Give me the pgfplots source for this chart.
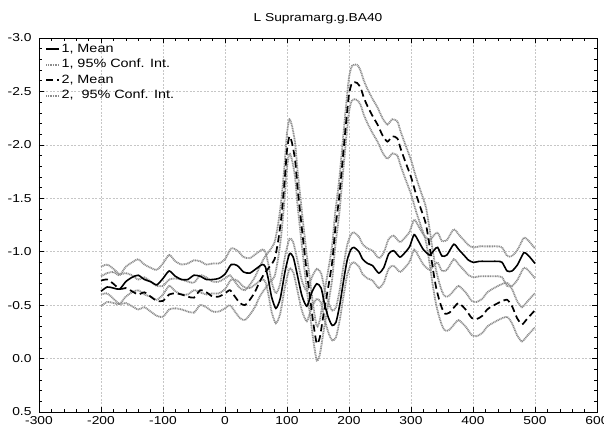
\documentclass[border=0pt]{standalone}
\usepackage{pgfplots}
\usepackage{pgfplotstable}
\pgfplotsset{compat=1.18}
\usepackage{fontspec}
\setmainfont{Liberation Sans}[FakeStretch=1.2]

\pgfplotstableread{
x m a b
-200 -0.63 -0.77 -0.49
-190 -0.67 -0.80 -0.53
-180 -0.66 -0.81 -0.52
-170 -0.65 -0.78 -0.51
-160 -0.72 -0.86 -0.58
-150 -0.76 -0.90 -0.62
-140 -0.78 -0.93 -0.64
-130 -0.74 -0.88 -0.60
-120 -0.72 -0.85 -0.58
-110 -0.69 -0.83 -0.55
-100 -0.75 -0.89 -0.60
-90 -0.82 -0.97 -0.68
-80 -0.77 -0.91 -0.63
-70 -0.74 -0.88 -0.60
-60 -0.74 -0.89 -0.60
-50 -0.78 -0.92 -0.64
-40 -0.77 -0.91 -0.62
-30 -0.74 -0.88 -0.60
-20 -0.74 -0.89 -0.61
-10 -0.75 -0.89 -0.61
0 -0.79 -0.93 -0.65
10 -0.88 -1.03 -0.74
20 -0.87 -1.01 -0.73
30 -0.81 -0.95 -0.67
40 -0.80 -0.94 -0.66
50 -0.84 -0.98 -0.70
60 -0.88 -1.02 -0.74
65 -0.86 -1.00 -0.72
70 -0.74 -0.88 -0.60
75 -0.58 -0.72 -0.44
82 -0.47 -0.61 -0.33
89 -0.56 -0.70 -0.42
97 -0.82 -0.96 -0.68
104 -0.98 -1.12 -0.84
110 -0.95 -1.09 -0.81
116 -0.80 -0.94 -0.66
124 -0.59 -0.73 -0.45
132 -0.49 -0.63 -0.35
140 -0.62 -0.76 -0.48
148 -0.70 -0.84 -0.56
155 -0.66 -0.80 -0.52
161 -0.50 -0.64 -0.36
167 -0.38 -0.52 -0.24
173 -0.31 -0.45 -0.17
179 -0.34 -0.48 -0.20
185 -0.50 -0.64 -0.36
191 -0.72 -0.86 -0.58
197 -0.92 -1.06 -0.78
203 -1.02 -1.16 -0.88
208 -1.04 -1.18 -0.90
216 -1.00 -1.14 -0.86
222 -0.93 -1.07 -0.79
230 -0.89 -1.03 -0.75
238 -0.87 -1.01 -0.73
248 -0.80 -0.94 -0.66
256 -0.85 -0.99 -0.71
264 -0.98 -1.12 -0.84
272 -1.01 -1.15 -0.87
282 -0.95 -1.09 -0.81
290 -0.99 -1.13 -0.85
298 -1.05 -1.19 -0.91
305 -1.16 -1.30 -1.02
312 -1.10 -1.24 -0.96
320 -1.02 -1.16 -0.88
330 -0.97 -1.11 -0.83
338 -1.02 -1.16 -0.88
343 -1.04 -1.18 -0.90
350 -0.96 -1.10 -0.82
358 -0.97 -1.11 -0.83
369 -1.07 -1.21 -0.93
377 -1.02 -1.16 -0.88
385 -0.97 -1.11 -0.83
393 -0.92 -1.06 -0.78
401 -0.90 -1.04 -0.76
410 -0.91 -1.05 -0.77
420 -0.91 -1.05 -0.77
430 -0.91 -1.05 -0.77
440 -0.91 -1.05 -0.77
447 -0.90 -1.04 -0.76
455 -0.82 -0.96 -0.68
463 -0.82 -0.96 -0.68
472 -0.88 -1.02 -0.74
482 -0.99 -1.13 -0.85
490 -0.96 -1.10 -0.82
500 -0.89 -1.03 -0.75
}\sone

\pgfplotstableread{
x m a b
-200 -0.73 -0.86 -0.60
-190 -0.74 -0.88 -0.61
-180 -0.70 -0.84 -0.56
-170 -0.65 -0.79 -0.51
-160 -0.66 -0.80 -0.52
-150 -0.63 -0.78 -0.49
-140 -0.60 -0.74 -0.46
-130 -0.62 -0.76 -0.48
-120 -0.58 -0.72 -0.44
-110 -0.54 -0.68 -0.40
-100 -0.54 -0.68 -0.39
-90 -0.60 -0.74 -0.46
-80 -0.61 -0.75 -0.47
-70 -0.60 -0.74 -0.46
-60 -0.58 -0.72 -0.44
-50 -0.57 -0.71 -0.43
-40 -0.64 -0.78 -0.50
-30 -0.62 -0.76 -0.48
-20 -0.58 -0.72 -0.44
-10 -0.58 -0.72 -0.44
0 -0.61 -0.75 -0.47
8 -0.64 -0.78 -0.50
16 -0.58 -0.72 -0.44
24 -0.52 -0.66 -0.38
32 -0.50 -0.64 -0.36
40 -0.55 -0.69 -0.41
48 -0.62 -0.76 -0.48
56 -0.72 -0.86 -0.58
64 -0.80 -0.95 -0.65
72 -0.86 -1.01 -0.71
80 -0.93 -1.09 -0.77
86 -1.11 -1.27 -0.95
91 -1.33 -1.49 -1.17
96 -1.65 -1.81 -1.49
100 -1.95 -2.11 -1.79
104 -2.08 -2.24 -1.92
108 -2.02 -2.18 -1.86
113 -1.86 -2.02 -1.70
117 -1.60 -1.76 -1.44
121 -1.38 -1.54 -1.22
126 -1.11 -1.27 -0.95
132 -0.80 -0.96 -0.64
137 -0.58 -0.74 -0.42
142 -0.35 -0.51 -0.19
148 -0.14 -0.30 0.02
153 -0.20 -0.36 -0.04
158 -0.38 -0.54 -0.22
163 -0.55 -0.71 -0.39
168 -0.72 -0.88 -0.56
173 -0.91 -1.07 -0.75
178 -1.22 -1.38 -1.06
184 -1.50 -1.66 -1.34
189 -1.81 -1.97 -1.65
195 -2.19 -2.35 -2.03
200 -2.47 -2.63 -2.31
205 -2.58 -2.74 -2.42
213 -2.58 -2.75 -2.42
219 -2.53 -2.69 -2.37
224 -2.44 -2.60 -2.28
230 -2.36 -2.52 -2.20
238 -2.27 -2.43 -2.11
246 -2.19 -2.35 -2.03
254 -2.09 -2.25 -1.93
262 -2.03 -2.19 -1.87
270 -2.08 -2.24 -1.92
278 -2.06 -2.22 -1.90
283 -1.97 -2.13 -1.81
291 -1.84 -2.00 -1.68
300 -1.70 -1.86 -1.54
308 -1.54 -1.70 -1.38
316 -1.40 -1.56 -1.24
324 -1.26 -1.42 -1.10
330 -1.05 -1.21 -0.89
335 -0.85 -1.01 -0.69
340 -0.68 -0.84 -0.52
345 -0.56 -0.72 -0.40
350 -0.47 -0.63 -0.31
355 -0.42 -0.58 -0.26
362 -0.43 -0.59 -0.27
371 -0.49 -0.65 -0.33
377 -0.52 -0.68 -0.36
388 -0.46 -0.62 -0.30
398 -0.38 -0.54 -0.22
406 -0.37 -0.53 -0.21
415 -0.40 -0.56 -0.24
423 -0.46 -0.62 -0.30
431 -0.49 -0.65 -0.33
444 -0.53 -0.69 -0.37
455 -0.55 -0.71 -0.39
463 -0.49 -0.65 -0.33
471 -0.38 -0.54 -0.22
479 -0.32 -0.48 -0.16
487 -0.37 -0.53 -0.21
498 -0.44 -0.60 -0.28
500 -0.45 -0.61 -0.29
}\stwo

\tikzset{
  meanone/.style={black, line width=1.6pt, solid},
  meantwo/.style={black, line width=1.7pt, dash pattern=on 7pt off 4pt},
  ci/.style={gray!90, line width=1.8pt, dash pattern=on 1pt off 0.7pt},
}

\begin{document}
\begin{tikzpicture}
\begin{axis}[
  width=558pt, height=374pt, scale only axis,
  xmin=-300, xmax=600, ymin=-3, ymax=0.5, y dir=reverse,
  xtick={-300,-200,-100,0,100,200,300,400,500,600},
  ytick={-3,-2.5,-2,-1.5,-1,-0.5,0,0.5},
  minor x tick num=4, minor y tick num=4,
  major tick length=5pt, minor tick length=3pt,
  tick style={black, line width=0.6pt},
  axis line style={black, line width=0.8pt},
  grid=major,
  major grid style={gray!45, dash pattern=on 2pt off 1.5pt, line width=0.5pt},
  /pgf/number format/assume math mode=true,
  ticklabel style={font=\fontsize{11.5}{13}\selectfont},
  yticklabel style={/pgf/number format/fixed, /pgf/number format/fixed zerofill, /pgf/number format/precision=1, xshift=-4pt},
  xticklabel style={yshift=-1pt},
  scaled ticks=false,
  title={L Supramarg.g.BA40},
  title style={font=\fontsize{11.5}{13}\selectfont, at={(0.5,1)}, anchor=base, yshift=11pt},
  legend style={at={(0,1)}, anchor=north west, xshift=3pt, yshift=-2pt,
    draw=none, fill=none, font=\fontsize{12}{14}\selectfont,
    nodes={inner sep=1.5pt, text height=8.5pt, text depth=2.5pt},
    row sep=1.5pt},
  legend cell align=left,
  legend image code/.code={\draw[#1] (0pt,0pt) -- (13pt,0pt);},
  every axis plot/.append style={smooth, tension=0.4},
]
\addlegendimage{meanone}\addlegendentry{1, Mean}
\addlegendimage{ci}\addlegendentry{1, 95\% Conf. Int.}
\addlegendimage{meantwo}\addlegendentry{2, Mean}
\addlegendimage{ci}\addlegendentry{2,\ \ 95\% Conf. Int.}

\addplot[ci, forget plot] table[x=x, y=a] {\sone};
\addplot[ci, forget plot] table[x=x, y=b] {\sone};
\addplot[ci, forget plot] table[x=x, y=a] {\stwo};
\addplot[ci, forget plot] table[x=x, y=b] {\stwo};
\addplot[meanone, forget plot] table[x=x, y=m] {\sone};
\addplot[meantwo, forget plot] table[x=x, y=m] {\stwo};
\end{axis}
\pgfresetboundingbox
\path[use as bounding box] ([xshift=-39pt,yshift=-21pt]current axis.south west) rectangle ([xshift=7pt,yshift=38pt]current axis.north east);
\end{tikzpicture}
\end{document}
